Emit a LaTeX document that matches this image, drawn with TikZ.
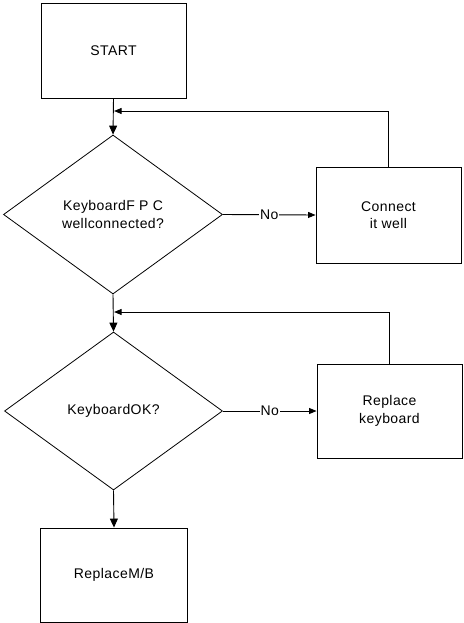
\documentclass[tikz,border=0pt]{standalone}
\usepackage{fontspec}
\setmainfont[LetterSpace=3]{Liberation Sans}
\usetikzlibrary{shapes.geometric,arrows.meta}
\tikzset{
  box/.style={draw, line width=0.9pt, rectangle, inner sep=0pt, align=center, font=\fontsize{14}{17.5}\selectfont},
  decision/.style={draw, line width=0.8pt, diamond, inner sep=0pt, align=center, font=\fontsize{14}{17.5}\selectfont},
  conn/.style={line width=0.9pt, -{Triangle[length=9pt,width=8pt]}},
  smallconn/.style={line width=0.9pt, -{Triangle[length=7.5pt,width=6pt]}},
  lbl/.style={fill=white, inner sep=1pt, font=\fontsize{14}{17.5}\selectfont}
}
\begin{document}
\begin{tikzpicture}[x=1pt,y=-1pt]
\useasboundingbox (0,0) rectangle (463,623);
\node[box, minimum width=145pt, minimum height=95pt] (start) at (113.5,50.5) {START};
\node[decision, minimum width=219pt, minimum height=159pt] (d1) at (113,214.5) {KeyboardF P C\\wellconnected?};
\node[box, minimum width=145pt, minimum height=96pt] (connect) at (388.5,215) {Connect\\it well};
\node[decision, minimum width=218pt, minimum height=158pt] (d2) at (113.5,411) {KeyboardOK?};
\node[box, minimum width=145pt, minimum height=94pt] (replace) at (389.5,411) {Replace\\keyboard};
\node[box, minimum width=147pt, minimum height=94pt] (mb) at (114,575) {ReplaceM/B};
\coordinate (j1) at (113.5,111);
\coordinate (j2) at (113.5,312);
\draw[conn] (start.south) -- (d1.north);
\draw[conn] (d1.south) -- (d2.north);
\draw[conn] (d2.south) -- (mb.north);
\draw[smallconn] (d1.east) -- node[lbl] {No} (connect.west);
\draw[smallconn] (d2.east) -- node[lbl] {No} (replace.west);
\draw[smallconn] (connect.north) |- ([xshift=0.6pt]j1);
\draw[smallconn] (replace.north) |- ([xshift=0.6pt]j2);
\end{tikzpicture}
\end{document}
